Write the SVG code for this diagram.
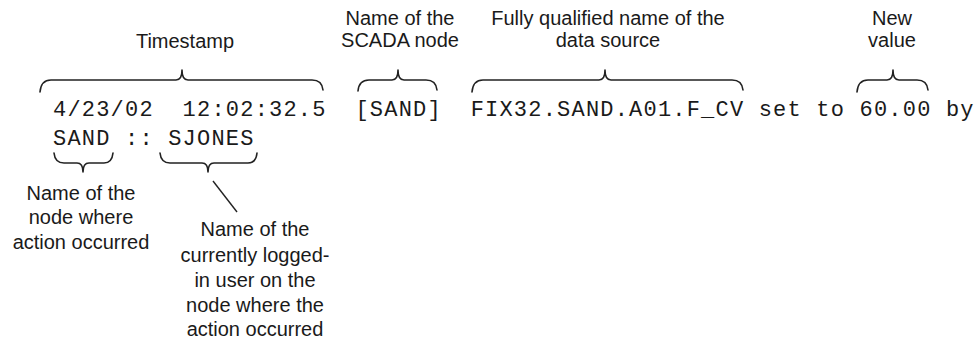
<svg xmlns="http://www.w3.org/2000/svg" width="977" height="343" viewBox="0 0 977 343">
<style>
.lbl{font-family:"Liberation Sans",Arial,sans-serif;font-size:20px;fill:#1a1a1a;text-anchor:middle}
.mono{font-family:"Liberation Mono","Courier New",monospace;font-size:22px;letter-spacing:1.2px;fill:#1a1a1a;white-space:pre}
.brace{fill:none;stroke:#222;stroke-width:1.6;stroke-linejoin:round;stroke-linecap:round}
.conn{fill:none;stroke:#222;stroke-width:1.4}
</style>
<rect width="977" height="343" fill="#fff"/>
<g id="log-entry">
<text class="mono" x="53" y="116" xml:space="preserve">4/23/02  12:02:32.5  [SAND]  FIX32.SAND.A01.F_CV set to 60.00 by</text>
<text class="mono" x="53" y="145" xml:space="preserve">SAND :: SJONES</text>
</g>
<g id="timestamp">
<text class="lbl" x="185" y="48">Timestamp</text>
<path class="brace" d="M40,92 Q41,80 51,80 L176,80 Q182,80 182,70 Q182,80 188,80 L312,80 Q322,80 323,90"/>
</g>
<g id="scada-node">
<text class="lbl" x="400" y="25">Name of the</text>
<text class="lbl" x="400" y="47">SCADA node</text>
<path class="brace" d="M358,91 Q359,80 369,80 L392,80 Q398,80 398,70 Q398,80 404,80 L426,80 Q436,80 437,90"/>
</g>
<g id="data-source">
<text class="lbl" x="608" y="25">Fully qualified name of the</text>
<text class="lbl" x="608" y="47">data source</text>
<path class="brace" d="M472,92 Q473,80 483,80 L599,80 Q605,80 605,70 Q605,80 611,80 L732,80 Q742,80 743,90"/>
</g>
<g id="new-value">
<text class="lbl" x="892" y="25">New</text>
<text class="lbl" x="892" y="47">value</text>
<path class="brace" d="M857,92 Q858,80 868,80 L887,80 Q893,80 893,70 Q893,80 899,80 L917,80 Q927,80 928,90"/>
</g>
<g id="action-node">
<path class="brace" d="M54,153 Q55,163 64,163 L77,163 Q83,163 83,172 Q83,163 89,163 L104,163 Q112,163 113,153"/>
<text class="lbl" x="81" y="200">Name of the</text>
<text class="lbl" x="81" y="224">node where</text>
<text class="lbl" x="81" y="249">action occurred</text>
</g>
<g id="logged-in-user">
<path class="brace" d="M160,153 Q161,163 170,163 L202,163 Q208,163 208,172 Q208,163 214,163 L248,163 Q256,163 257,153"/>
<text class="lbl" x="255" y="236">Name of the</text>
<text class="lbl" x="255" y="262">currently logged-</text>
<text class="lbl" x="255" y="287">in user on the</text>
<text class="lbl" x="255" y="312">node where the</text>
<text class="lbl" x="255" y="336">action occurred</text>
</g>
<g id="connectors">
<line class="conn" x1="213" y1="181" x2="237" y2="212"/>
</g>
</svg>
